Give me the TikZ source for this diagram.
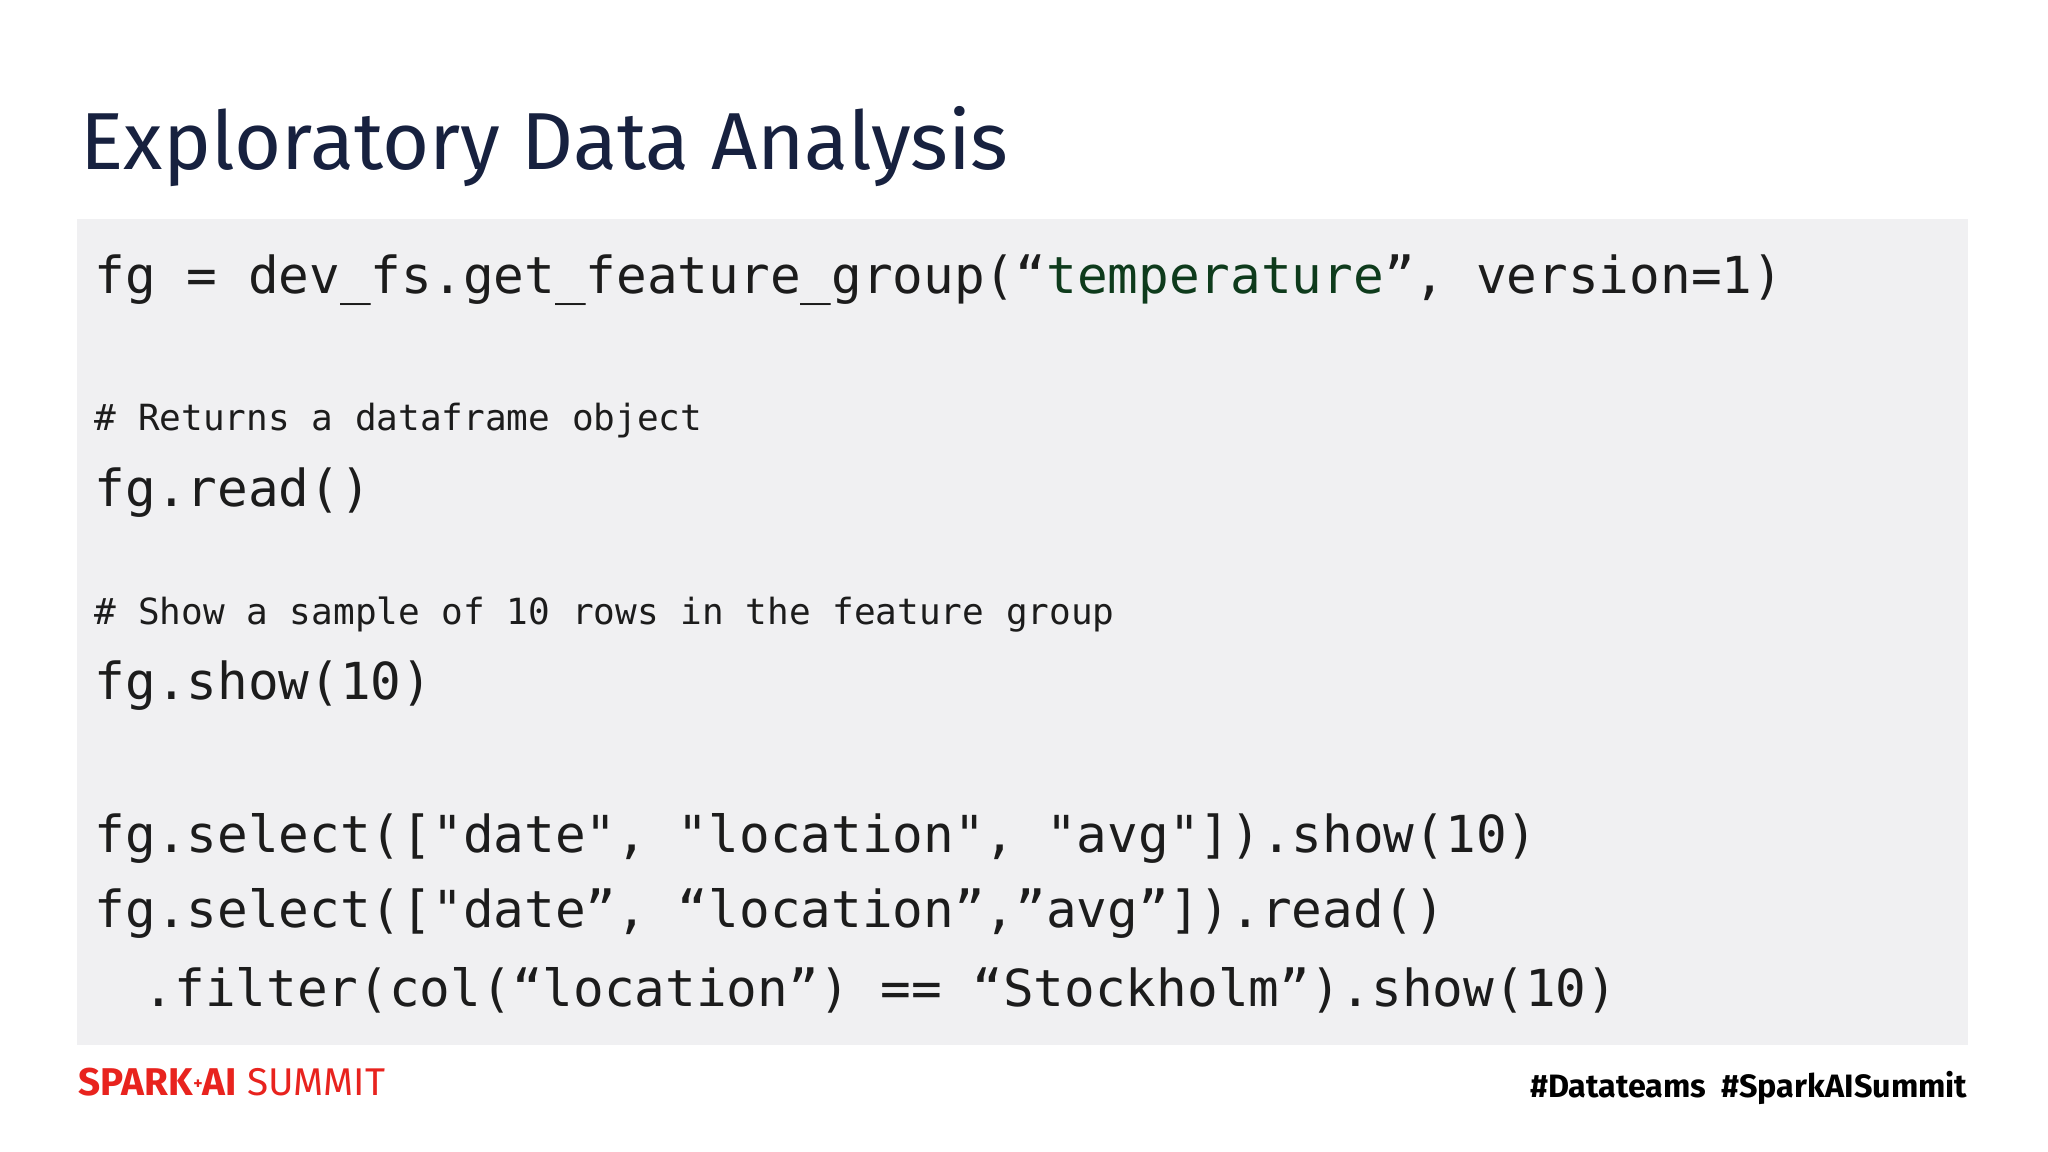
\documentclass[tikz,border=0pt]{standalone}
\usepackage{fontspec}
\setmainfont{Fira Sans}
\setmonofont{DejaVu Sans Mono}
\definecolor{navy}{HTML}{17213F}
\definecolor{boxgray}{HTML}{F0F0F2}
\definecolor{codeink}{HTML}{1C1C1C}
\definecolor{strgreen}{HTML}{0E3B1C}
\definecolor{sparkred}{HTML}{E8231E}
\tikzset{
  code/.style={anchor=base west, inner sep=0pt, text=codeink, font=\ttfamily\fontsize{14.5pt}{16pt}\selectfont},
  comment/.style={anchor=base west, inner sep=0pt, text=codeink, font=\ttfamily\fontsize{10.25pt}{12pt}\selectfont},
}
\begin{document}
\begin{tikzpicture}[x=0.01cm,y=-0.01cm]
\useasboundingbox (0,0) rectangle (2048,1152);
\fill[white] (0,0) rectangle (2048,1152);
\node[anchor=base west, inner sep=0pt, text=navy, font=\fontsize{23pt}{28pt}\selectfont] (title) at (80,170) {Exploratory Data Analysis};
\fill[boxgray] (77,219) rectangle (1968,1045);
\node[code] (l1) at (94,294) {fg = dev\_fs.get\_feature\_group(“\textcolor{strgreen}{temperature}”, version=1)};
\node[comment] (c1) at (94,431) {\# Returns a dataframe object};
\node[code] (l2) at (94,507) {fg.read()};
\node[comment] (c2) at (94,624) {\# Show a sample of 10 rows in the feature group};
\node[code] (l3) at (94,699) {fg.show(10)};
\node[code] (l4) at (94,852) {fg.select(["date", "location", "avg"]).show(10)};
\node[code] (l5) at (94,927) {fg.select(["date”, “location”,”avg”]).read()};
\node[code] (l6) at (143,1006) {.filter(col(“location”) == “Stockholm”).show(10)};
\node[anchor=base west, inner sep=0pt, text=sparkred, font=\fontsize{11pt}{13pt}\selectfont] (logo) at (78,1095) {\textbf{SPARK}\raisebox{0.25ex}{\tiny\textbf{+}}\textbf{AI} SUMMIT};
\node[anchor=base east, inner sep=0pt, text=black, font=\bfseries\fontsize{9.2pt}{11pt}\selectfont] (tags) at (1968,1097) {\#Datateams\ \ \#SparkAISummit};
\end{tikzpicture}
\end{document}
